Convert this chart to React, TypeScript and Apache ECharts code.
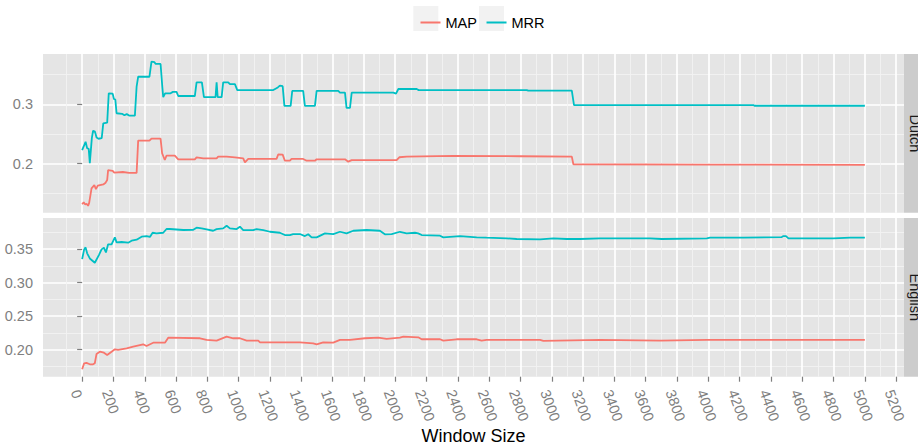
import React, { useEffect, useRef } from "react";
import * as echarts from "echarts";

const facets = ["Dutch", "English"];
const seriesNames = ["MAP", "MRR"];
const colors = ["#F8766D", "#00BFC4"];

// [window size, score]
const dutchMAP: [number, number][] = [
  [0, 0.1315], [10, 0.135], [20, 0.131], [28, 0.1325], [38, 0.129], [45, 0.134], [60, 0.1585], [78, 0.164],
  [88, 0.157], [100, 0.163], [135, 0.165], [150, 0.168], [160, 0.1725], [166, 0.189], [195, 0.188], [205, 0.185],
  [260, 0.186], [300, 0.1845], [348, 0.1845], [358, 0.2388], [430, 0.2388], [443, 0.2422], [501, 0.2422],
  [511, 0.2175], [528, 0.2062], [539, 0.2135], [592, 0.2135], [614, 0.2074], [720, 0.2074], [731, 0.2107],
  [774, 0.209], [859, 0.209], [869, 0.2118], [923, 0.2118], [976, 0.2107], [1029, 0.2091], [1040, 0.2023],
  [1061, 0.208], [1242, 0.208], [1253, 0.2158], [1281, 0.2152], [1295, 0.205], [1327, 0.205], [1338, 0.208],
  [1412, 0.208], [1434, 0.205], [1487, 0.205], [1498, 0.2074], [1679, 0.2074], [1700, 0.2034], [1722, 0.206],
  [2009, 0.206], [2026, 0.2108], [2073, 0.2118], [2371, 0.213], [2800, 0.2125], [3128, 0.2118], [3138, 0.199],
  [4000, 0.1985], [5000, 0.198],
];

const dutchMRR: [number, number][] = [
  [0, 0.223], [10, 0.229], [22, 0.237], [32, 0.226], [42, 0.225], [49, 0.201], [62, 0.243], [70, 0.2555],
  [82, 0.254], [92, 0.244], [105, 0.242], [125, 0.243], [135, 0.268], [160, 0.269], [170, 0.3185], [195, 0.318],
  [203, 0.309], [212, 0.308], [220, 0.285], [255, 0.284], [270, 0.2815], [285, 0.2835], [300, 0.281], [337, 0.281],
  [348, 0.33], [358, 0.3465], [430, 0.3465], [443, 0.372], [462, 0.371], [470, 0.368], [501, 0.368], [512, 0.33],
  [518, 0.312], [530, 0.3185], [565, 0.3185], [580, 0.321], [603, 0.321], [614, 0.314], [720, 0.314], [731, 0.337],
  [765, 0.337], [778, 0.312], [852, 0.312], [859, 0.337], [866, 0.312], [891, 0.312], [901, 0.337], [933, 0.337],
  [944, 0.334], [976, 0.334], [991, 0.324], [1221, 0.324], [1250, 0.3285], [1263, 0.3315], [1281, 0.3305],
  [1292, 0.2975], [1332, 0.2975], [1342, 0.3225], [1412, 0.3225], [1423, 0.2975], [1487, 0.2975], [1498, 0.3225],
  [1636, 0.3225], [1647, 0.3196], [1679, 0.3196], [1689, 0.294], [1711, 0.294], [1722, 0.3196], [1988, 0.3196],
  [2005, 0.318], [2020, 0.3258], [2137, 0.3258], [2150, 0.324], [2840, 0.324], [2850, 0.323], [3128, 0.323],
  [3142, 0.2988], [4288, 0.2988], [4295, 0.2976], [5000, 0.2976],
];

const englishMAP: [number, number][] = [
  [0, 0.1707], [13, 0.1797], [28, 0.1802], [49, 0.1782], [70, 0.1782], [81, 0.1797], [92, 0.1936], [113, 0.197],
  [139, 0.1955], [160, 0.192], [188, 0.197], [209, 0.2006], [230, 0.1996], [284, 0.202], [326, 0.2045], [390, 0.208],
  [411, 0.2055], [454, 0.2104], [529, 0.2104], [550, 0.2179], [753, 0.217], [795, 0.2145], [859, 0.2135],
  [923, 0.2194], [965, 0.217], [1008, 0.217], [1051, 0.2134], [1125, 0.2134], [1136, 0.211], [1285, 0.211],
  [1391, 0.211], [1476, 0.2095], [1498, 0.208], [1540, 0.211], [1604, 0.2105], [1647, 0.2145], [1711, 0.2145],
  [1807, 0.217], [1892, 0.2179], [1945, 0.216], [2030, 0.2179], [2052, 0.2194], [2147, 0.2184], [2169, 0.2155],
  [2286, 0.2155], [2307, 0.2134], [2392, 0.2155], [2520, 0.2155], [2552, 0.2134], [2584, 0.2145], [2925, 0.2145],
  [2946, 0.213], [3308, 0.2145], [3692, 0.2134], [3990, 0.2145], [5000, 0.2145],
];

const englishMRR: [number, number][] = [
  [0, 0.335], [13, 0.3495], [22, 0.3525], [32, 0.3436], [49, 0.336], [81, 0.3296], [107, 0.341], [124, 0.3495],
  [139, 0.352], [152, 0.345], [166, 0.357], [188, 0.357], [209, 0.3675], [220, 0.36], [252, 0.3605], [294, 0.3595],
  [316, 0.3624], [348, 0.364], [380, 0.3684], [412, 0.3694], [433, 0.368], [450, 0.3743], [475, 0.3735],
  [518, 0.3743], [539, 0.3799], [560, 0.3799], [646, 0.3784], [710, 0.3788], [731, 0.3818], [763, 0.3808],
  [795, 0.3793], [837, 0.3773], [859, 0.3798], [901, 0.3808], [923, 0.3848], [944, 0.3808], [987, 0.3798],
  [1008, 0.3833], [1029, 0.3783], [1093, 0.3783], [1114, 0.3798], [1157, 0.3783], [1200, 0.3758], [1263, 0.3743],
  [1295, 0.3709], [1327, 0.3709], [1348, 0.3724], [1391, 0.3724], [1423, 0.3694], [1444, 0.372], [1466, 0.3675],
  [1498, 0.3675], [1551, 0.3734], [1604, 0.3724], [1647, 0.3758], [1689, 0.3734], [1732, 0.3773], [1817, 0.3784],
  [1902, 0.3773], [1934, 0.372], [1977, 0.3724], [2030, 0.3758], [2073, 0.3734], [2126, 0.3743], [2147, 0.3734],
  [2169, 0.3709], [2286, 0.3699], [2307, 0.3675], [2414, 0.3694], [2520, 0.3675], [2584, 0.3669], [2712, 0.366],
  [2776, 0.365], [2925, 0.3645], [3010, 0.366], [3095, 0.365], [3180, 0.365], [3308, 0.366], [3628, 0.366],
  [3703, 0.365], [3990, 0.366], [4011, 0.3669], [4224, 0.3669], [4469, 0.3679], [4480, 0.3694], [4496, 0.3694],
  [4512, 0.366], [4800, 0.366], [4906, 0.3669], [5000, 0.3669],
];

const xMajorTicks = [0, 200, 400, 600, 800, 1000, 1200, 1400, 1600, 1800, 2000, 2200, 2400, 2600, 2800, 3000,
  3200, 3400, 3600, 3800, 4000, 4200, 4400, 4600, 4800, 5000, 5200];
const xMinorTicks = [-100, 100, 300, 500, 700, 900, 1100, 1300, 1500, 1700, 1900, 2100, 2300, 2500, 2700, 2900,
  3100, 3300, 3500, 3700, 3900, 4100, 4300, 4500, 4700, 4900, 5100];
const dutchYMajor = [0.2, 0.3];
const dutchYMinor = [0.15, 0.25, 0.35];
const englishYMajor = [0.2, 0.25, 0.3, 0.35];
const englishYMinor = [0.175, 0.225, 0.275, 0.325, 0.375];

const X_MIN = -250;
const X_MAX = 5250;
const DUTCH_RANGE = [0.1174, 0.3848];
const ENGLISH_RANGE = [0.1597, 0.3963];

const FONT = "'Liberation Sans', Arial, Helvetica, sans-serif";
const PANEL_LEFT = 43;
const PANEL_WIDTH = 861;
const PANEL_TOPS = [54, 218];
const PANEL_HEIGHT = 158.7;

export default function App() {
  const ref = useRef<HTMLDivElement>(null);

  useEffect(() => {
    if (!ref.current) return;
    const chart = echarts.init(ref.current, null, { renderer: "svg" });

    const hidden = { show: false };
    const majorSplit = { show: true, lineStyle: { color: "#FFFFFF", width: 1.7 } };
    const minorSplit = { show: true, lineStyle: { color: "#F2F2F2", width: 0.9 } };
    const tickStyle = { color: "#7F7F7F", width: 1.2 };
    const labelStyle = { color: "#7F7F7F", fontSize: 14.5, fontFamily: FONT };

    const xAxes: any[] = [
      {
        type: "value", gridIndex: 0, min: X_MIN, max: X_MAX,
        axisLine: hidden, axisLabel: { show: false, customValues: xMajorTicks },
        axisTick: { show: false, customValues: xMajorTicks },
        splitLine: majorSplit,
      },
      {
        type: "value", gridIndex: 1, min: X_MIN, max: X_MAX,
        name: "Window Size", nameLocation: "middle", nameGap: 46,
        nameTextStyle: { color: "#000000", fontSize: 18, fontFamily: FONT },
        axisLine: hidden,
        axisTick: { show: true, length: 5, lineStyle: tickStyle, customValues: xMajorTicks },
        axisLabel: {
          ...labelStyle, customValues: xMajorTicks, rotate: -70, margin: 11,
          align: "left", verticalAlign: "top",
          formatter: (v: number) => String(v),
        },
        splitLine: majorSplit,
      },
      {
        type: "value", gridIndex: 0, min: X_MIN, max: X_MAX, position: "top",
        axisLine: hidden, axisLabel: { show: false, customValues: xMinorTicks },
        axisTick: { show: false, customValues: xMinorTicks },
        splitLine: minorSplit,
      },
      {
        type: "value", gridIndex: 1, min: X_MIN, max: X_MAX, position: "top",
        axisLine: hidden, axisLabel: { show: false, customValues: xMinorTicks },
        axisTick: { show: false, customValues: xMinorTicks },
        splitLine: minorSplit,
      },
    ];

    const yAxes: any[] = [
      {
        type: "value", gridIndex: 0, min: DUTCH_RANGE[0], max: DUTCH_RANGE[1],
        axisLine: hidden,
        axisTick: { show: true, length: 5, lineStyle: tickStyle, customValues: dutchYMajor },
        axisLabel: { ...labelStyle, margin: 10, customValues: dutchYMajor, formatter: (v: number) => v.toFixed(1) },
        splitLine: majorSplit,
      },
      {
        type: "value", gridIndex: 1, min: ENGLISH_RANGE[0], max: ENGLISH_RANGE[1],
        axisLine: hidden,
        axisTick: { show: true, length: 5, lineStyle: tickStyle, customValues: englishYMajor },
        axisLabel: { ...labelStyle, margin: 10, customValues: englishYMajor, formatter: (v: number) => v.toFixed(2) },
        splitLine: majorSplit,
      },
      {
        type: "value", gridIndex: 0, min: DUTCH_RANGE[0], max: DUTCH_RANGE[1], position: "right",
        axisLine: hidden, axisLabel: { show: false, customValues: dutchYMinor },
        axisTick: { show: false, customValues: dutchYMinor },
        splitLine: minorSplit,
      },
      {
        type: "value", gridIndex: 1, min: ENGLISH_RANGE[0], max: ENGLISH_RANGE[1], position: "right",
        axisLine: hidden, axisLabel: { show: false, customValues: englishYMinor },
        axisTick: { show: false, customValues: englishYMinor },
        splitLine: minorSplit,
      },
    ];

    const mkSeries = (name: string, data: [number, number][], facet: number, color: string) => ({
      type: "line",
      name,
      data,
      xAxisIndex: facet,
      yAxisIndex: facet,
      showSymbol: false,
      symbol: "none",
      itemStyle: { color },
      lineStyle: { color, width: 1.8 },
      z: 5,
    });

    const stripGraphics: any[] = [];
    facets.forEach((f, i) => {
      stripGraphics.push({
        type: "rect",
        shape: { x: PANEL_LEFT + PANEL_WIDTH, y: PANEL_TOPS[i], width: 40, height: PANEL_HEIGHT },
        style: { fill: "#CCCCCC" },
        silent: true,
      });
      stripGraphics.push({
        type: "text",
        x: 915,
        y: PANEL_TOPS[i] + PANEL_HEIGHT / 2,
        rotation: -Math.PI / 2,
        style: {
          text: f, fill: "#1A1A1A", fontSize: 14.5, fontFamily: FONT,
          align: "center", verticalAlign: "middle",
        },
        silent: true,
      });
    });
    // legend key backgrounds
    [413.3, 479].forEach((x) => {
      stripGraphics.push({
        type: "rect",
        shape: { x, y: 6, width: 25, height: 25 },
        style: { fill: "#F2F2F2" },
        silent: true,
        z: -1,
      });
    });

    chart.setOption({
      animation: false,
      color: colors,
      textStyle: { fontFamily: FONT },
      legend: {
        data: seriesNames,
        left: 415.5,
        top: 10,
        icon: "rect",
        itemWidth: 20,
        itemHeight: 2,
        itemGap: 9.6,
        textStyle: { color: "#000000", fontSize: 14.5, fontFamily: FONT },
        selectedMode: false,
      },
      grid: PANEL_TOPS.map((top) => ({
        left: PANEL_LEFT, top, width: PANEL_WIDTH, height: PANEL_HEIGHT,
        show: true, backgroundColor: "#E5E5E5", borderWidth: 0,
      })),
      xAxis: xAxes,
      yAxis: yAxes,
      graphic: stripGraphics,
      series: [
        mkSeries("MAP", dutchMAP, 0, colors[0]),
        mkSeries("MRR", dutchMRR, 0, colors[1]),
        mkSeries("MAP", englishMAP, 1, colors[0]),
        mkSeries("MRR", englishMRR, 1, colors[1]),
      ],
    });

    return () => chart.dispose();
  }, []);

  return <div ref={ref} style={{ width: 918, height: 448, position: "absolute", left: 0, top: 0 }} />;
}
